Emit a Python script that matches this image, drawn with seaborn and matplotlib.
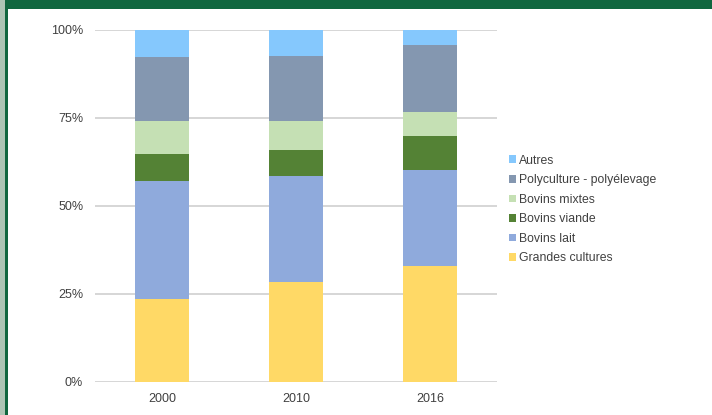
import pandas as pd
import numpy as np
import matplotlib.pyplot as plt
import seaborn as sns
from matplotlib.patches import Patch, Rectangle

years = ["2000", "2010", "2016"]
grandes_cultures = [0.234, 0.284, 0.327]
bovins_lait = [0.335, 0.300, 0.274]
bovins_viande = [0.077, 0.074, 0.096]
bovins_mixtes = [0.094, 0.083, 0.069]
polyculture = [0.183, 0.185, 0.190]
autres = [0.077, 0.074, 0.044]

series = ["Grandes cultures", "Bovins lait", "Bovins viande",
          "Bovins mixtes", "Polyculture - polyélevage", "Autres"]
colors = ["#FFD966", "#8FAADC", "#548235", "#C5E0B4", "#8497B0", "#85C8FD"]

df = pd.DataFrame({
    "Année": years,
    "Grandes cultures": grandes_cultures,
    "Bovins lait": bovins_lait,
    "Bovins viande": bovins_viande,
    "Bovins mixtes": bovins_mixtes,
    "Polyculture - polyélevage": polyculture,
    "Autres": autres,
})
# normalise to 100% and stack
vals = df[series].div(df[series].sum(axis=1), axis=0)
cum = vals.cumsum(axis=1)
cum["Année"] = df["Année"]

sns.set_style("white")
plt.rcParams["font.family"] = ["Liberation Sans", "DejaVu Sans"]

fig = plt.figure(figsize=(7.12, 4.15), dpi=100)
ax = fig.add_axes([95 / 712, 1 - 381.5 / 415, 402 / 712, 352 / 415])

# draw from top of stack down so each lower layer covers the previous one
for name, col in reversed(list(zip(series, colors))):
    sns.barplot(data=cum, x="Année", y=name, color=col, width=0.4,
                saturation=1, ax=ax, zorder=3, edgecolor="none", linewidth=0)

ax.set_ylim(0, 1)
ax.set_xlim(-0.5, 2.5)
ax.set_yticks([0, 0.25, 0.5, 0.75, 1.0])
ax.set_yticklabels(["0%", "25%", "50%", "75%", "100%"])
ax.set_xlabel("")
ax.set_ylabel("")
ax.grid(axis="y", color="#D0D0D0", linewidth=1.2, zorder=0)
ax.set_axisbelow(True)
for s in ax.spines.values():
    s.set_visible(False)
ax.tick_params(axis="both", length=0, labelsize=9, labelcolor="#404040")
ax.tick_params(axis="y", pad=8.5)
ax.tick_params(axis="x", pad=8)

handles = [Patch(facecolor=c, edgecolor="none") for c in reversed(colors)]
fig.legend(handles, list(reversed(series)), loc="center left",
           bbox_to_anchor=(504 / 712, 1 - 209.5 / 415), frameon=False,
           fontsize=8.8, labelcolor="#404040", handlelength=0.6,
           handleheight=0.6, handletextpad=0.25, labelspacing=0.62,
           borderaxespad=0)

# window frame
fig.add_artist(Rectangle((0, 1 - 9.5 / 415), 1, 9.5 / 415, transform=fig.transFigure,
                         facecolor="#10673F", edgecolor="none"))
fig.add_artist(Rectangle((0, 0), 5 / 712, 1, transform=fig.transFigure,
                         facecolor="#ADC5B5", edgecolor="none"))
fig.add_artist(Rectangle((5 / 712, 0), 2.5 / 712, 1 - 9 / 415, transform=fig.transFigure,
                         facecolor="#10673F", edgecolor="none"))

fig.savefig("out.png", dpi=100)
